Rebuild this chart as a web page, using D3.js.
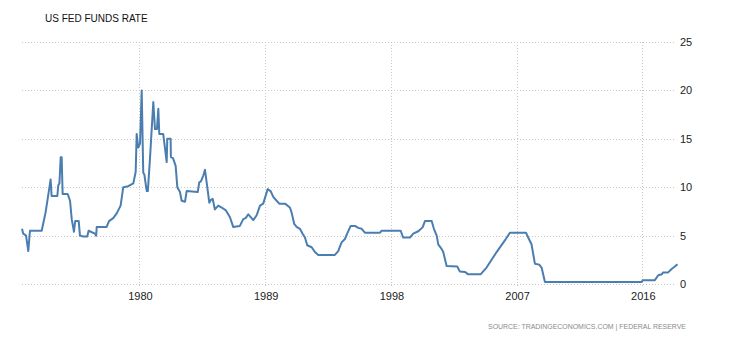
<!DOCTYPE html>
<html>
    <head>
        <title>US Fed Funds Rate</title>
        <script src="https://d3js.org/d3.v7.min.js"></script>
        <style>
            body { margin: 0; background: #fff; }
            svg { display: block; background: #fff; }
        </style>
    </head>
    <body>
        <script>
            // series (decimal year, percent)
            const years = [
                1971.59, 1971.68, 1971.88, 1972.04, 1972.16, 1973.00, 1973.28, 1973.64, 1973.71, 1974.12,
                1974.19, 1974.27, 1974.36, 1974.43, 1974.50, 1974.86, 1975.03, 1975.15, 1975.31, 1975.40,
                1975.65, 1975.74, 1975.98, 1976.26, 1976.36, 1976.81, 1976.90, 1976.94, 1977.65, 1977.82,
                1978.12, 1978.37, 1978.65, 1978.84, 1979.20, 1979.56, 1979.73, 1979.80, 1979.91, 1980.04,
                1980.16, 1980.27, 1980.35, 1980.52, 1980.60, 1980.75, 1980.99, 1981.11, 1981.25, 1981.35,
                1981.42, 1981.70, 1981.95, 1981.99, 1982.23, 1982.25, 1982.40, 1982.59, 1982.71, 1982.90,
                1983.02, 1983.26, 1983.38, 1984.17, 1984.28, 1984.40, 1984.57, 1984.69, 1984.81, 1985.00,
                1985.12, 1985.24, 1985.40, 1985.64, 1985.88, 1986.19, 1986.48, 1986.71, 1987.19, 1987.43,
                1987.60, 1987.79, 1988.03, 1988.15, 1988.39, 1988.63, 1988.86, 1989.18, 1989.39, 1989.58,
                1989.82, 1990.01, 1990.42, 1990.77, 1990.89, 1991.08, 1991.25, 1991.49, 1991.68, 1991.85,
                1992.01, 1992.33, 1992.56, 1992.80, 1993.99, 1994.23, 1994.47, 1994.71, 1994.87, 1995.12,
                1995.43, 1995.66, 1995.91, 1996.14, 1997.22, 1997.34, 1998.70, 1998.88, 1999.36, 1999.60,
                1999.96, 2000.27, 2000.44, 2000.92, 2001.08, 2001.28, 2001.39, 2001.64, 2001.75, 2001.99,
                2002.75, 2002.94, 2003.30, 2003.54, 2004.42, 2004.85, 2005.57, 2006.16, 2006.52, 2007.67,
                2007.83, 2008.07, 2008.31, 2008.62, 2008.79, 2009.03, 2015.95, 2016.04, 2016.90, 2017.14,
                2017.40, 2017.49, 2017.85, 2018.10, 2018.33, 2018.52
            ]
            const rates = [
                5.7, 5.2, 5.0, 3.4, 5.5, 5.5, 7.4, 10.8, 9.1, 9.1,
                10.2, 10.4, 13.1, 13.1, 9.3, 9.3, 8.6, 6.7, 5.4, 6.5,
                6.5, 5.0, 4.9, 4.9, 5.5, 5.2, 5.0, 5.9, 5.9, 6.5,
                6.8, 7.3, 8.1, 10.0, 10.1, 10.4, 11.6, 15.5, 14.1, 14.5,
                20.0, 11.5, 11.3, 9.6, 9.6, 12.9, 18.8, 16.0, 16.0, 18.1,
                15.5, 15.5, 12.6, 15.0, 15.0, 13.1, 13.0, 12.2, 10.0, 9.5,
                8.6, 8.5, 9.6, 9.5, 10.5, 10.6, 11.2, 11.8, 10.5, 8.4,
                8.7, 8.8, 7.7, 8.1, 7.9, 7.6, 6.9, 5.9, 6.0, 6.7,
                6.8, 7.2, 6.8, 6.6, 7.1, 8.1, 8.3, 9.8, 9.6, 9.0,
                8.6, 8.3, 8.3, 7.9, 7.4, 6.2, 5.9, 5.7, 5.2, 4.8,
                4.0, 3.8, 3.3, 3.0, 3.0, 3.4, 4.3, 4.65, 5.2, 6.0,
                6.0, 5.8, 5.7, 5.3, 5.3, 5.5, 5.5, 4.8, 4.8, 5.2,
                5.45, 5.85, 6.5, 6.5, 5.7, 5.0, 4.1, 3.6, 3.3, 1.85,
                1.8, 1.3, 1.25, 1.0, 1.0, 1.7, 3.3, 4.5, 5.3, 5.3,
                4.8, 4.1, 2.1, 2.0, 1.7, 0.2, 0.2, 0.4, 0.4, 0.9,
                1.0, 1.2, 1.2, 1.55, 1.8, 2.05
            ]
            const xTicks = [1980, 1989, 1998, 2007, 2016]
            const yTicks = [0, 5, 10, 15, 20, 25]
            const title = 'US FED FUNDS RATE'
            const source = 'SOURCE: TRADINGECONOMICS.COM | FEDERAL RESERVE'

            const data = years.map((y, i) => ({ year: y, value: rates[i] }))

            const svg = d3.select('body').append('svg')
                .attr('width', 730)
                .attr('height', 340)

            const plot = { left: 22, right: 676, top: 42, bottom: 284 }
            const xScale = d3.scaleLinear().domain([1971.59, 2018.52]).range([plot.left, plot.right + 1.5])
            const yScale = d3.scaleLinear().domain([0, 25]).range([plot.bottom, plot.top])

            const grid = svg.append('g')
                .attr('stroke', '#c8c8c8')
                .attr('stroke-width', 1)
                .attr('stroke-dasharray', '1,2')

            grid.selectAll('.hgrid')
                .data(yTicks).enter()
                .append('line')
                    .attr('class', 'hgrid')
                    .attr('x1', plot.left).attr('x2', plot.right)
                    .attr('y1', d => Math.round(yScale(d)) + 0.5)
                    .attr('y2', d => Math.round(yScale(d)) + 0.5)

            grid.selectAll('.vgrid')
                .data(xTicks).enter()
                .append('line')
                    .attr('class', 'vgrid')
                    .attr('x1', d => Math.round(xScale(d)) + 0.5)
                    .attr('x2', d => Math.round(xScale(d)) + 0.5)
                    .attr('y1', plot.top).attr('y2', plot.bottom + 4)

            // right y axis labels
            svg.selectAll('.ylab')
                .data(yTicks).enter()
                .append('text')
                    .attr('class', 'ylab')
                    .attr('x', plot.right + 4)
                    .attr('y', d => yScale(d) + 4)
                    .attr('font-family', 'Liberation Sans, Arial, sans-serif')
                    .attr('font-size', 11)
                    .attr('fill', '#222')
                    .text(d => d)

            svg.selectAll('.xlab')
                .data(xTicks).enter()
                .append('text')
                    .attr('class', 'xlab')
                    .attr('x', d => xScale(d) + 1)
                    .attr('y', plot.bottom + 16)
                    .attr('text-anchor', 'middle')
                    .attr('font-family', 'Liberation Sans, Arial, sans-serif')
                    .attr('font-size', 11)
                    .attr('fill', '#222')
                    .text(d => d)

            const line = d3.line()
                .x(d => xScale(d.year))
                .y(d => yScale(d.value))

            svg.append('path')
                .datum(data)
                .attr('d', line)
                .attr('fill', 'none')
                .attr('stroke', '#4a7eb0')
                .attr('stroke-width', 2)
                .attr('stroke-linejoin', 'round')

            svg.append('text')
                .attr('x', 45).attr('y', 22)
                .attr('font-family', 'Liberation Sans, Arial, sans-serif')
                .attr('font-size', 10)
                .attr('fill', '#111')
                .text(title)

            svg.append('text')
                .attr('x', 488).attr('y', 329)
                .attr('textLength', 198)
                .attr('lengthAdjust', 'spacingAndGlyphs')
                .attr('font-family', 'Liberation Sans, Arial, sans-serif')
                .attr('font-size', 8)
                .attr('fill', '#8a8a8a')
                .text(source)
        </script>
    </body>
</html>
